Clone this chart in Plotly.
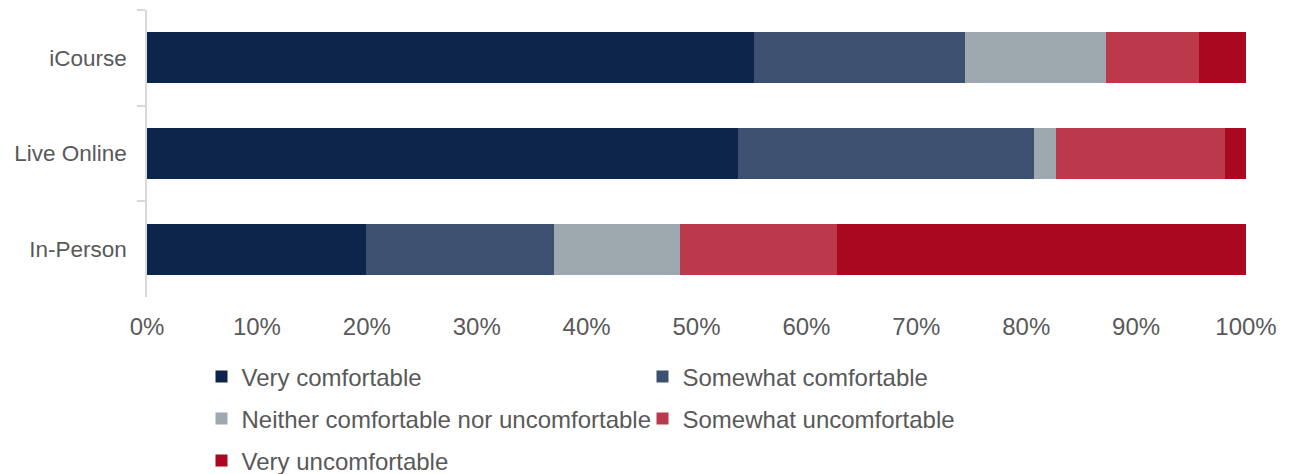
import plotly.graph_objects as go

categories = ["iCourse", "Live Online", "In-Person"]
series_names = [
    "Very comfortable",
    "Somewhat comfortable",
    "Neither comfortable nor uncomfortable",
    "Somewhat uncomfortable",
    "Very uncomfortable",
]
very_comfortable = [0.552, 0.538, 0.199]
somewhat_comfortable = [0.192, 0.269, 0.171]
neither = [0.129, 0.020, 0.115]
somewhat_uncomfortable = [0.084, 0.154, 0.143]
very_uncomfortable = [0.043, 0.019, 0.372]
x_ticks = [i / 10 for i in range(11)]

colors = ["#0D244B", "#3D5070", "#9DA9AE", "#BC384B", "#AA0720"]
values = [very_comfortable, somewhat_comfortable, neither, somewhat_uncomfortable, very_uncomfortable]
legend_ids = ["legend", "legend", "legend2", "legend2", "legend3"]

FONT = "Liberation Sans, Arial, sans-serif"
GREY = "#595959"
FS = 24

fig = go.Figure()
for name, vals, col, lg in zip(series_names, values, colors, legend_ids):
    fig.add_trace(go.Bar(
        y=categories, x=vals, name=name, orientation="h",
        marker=dict(color=col, line=dict(width=0)),
        legend=lg,
    ))

# page has an 8px body margin, so the figure is 8px smaller than the window
W, H = 1283, 466
L, R, T, B = 139, 45, 2, 177
ph = H - T - B
pw = W - L - R

def ypos(py):
    return (H - B - py) / ph

leg_common = dict(
    orientation="h", xanchor="left", yanchor="middle",
    x=(201.5 - 8 - L) / pw, font=dict(family=FONT, size=FS, color=GREY),
    entrywidth=396, entrywidthmode="pixels",
    bgcolor="rgba(0,0,0,0)", traceorder="normal",
)

fig.update_layout(
    width=W, height=H,
    margin=dict(l=L, r=R, t=T, b=B, autoexpand=False),
    paper_bgcolor="white", plot_bgcolor="white",
    barmode="stack", bargap=0.467,
    font=dict(family=FONT, size=FS, color=GREY),
    showlegend=True,
    legend=dict(**leg_common, y=ypos(377 - 8)),
    legend2=dict(**leg_common, y=ypos(419 - 8)),
    legend3=dict(**leg_common, y=ypos(461 - 8)),
    xaxis=dict(
        range=[0, 1], tickvals=x_ticks, tickformat=".0%",
        showgrid=False, zeroline=False, showline=False, ticks="",
        tickfont=dict(family=FONT, size=FS, color=GREY),
        ticklabelstandoff=13,
        fixedrange=True,
    ),
    yaxis=dict(
        categoryorder="array", categoryarray=categories, autorange="reversed",
        showline=True, linecolor="#D9D9D9", linewidth=1.5,
        ticks="outside", tickson="boundaries", ticklen=8, tickcolor="#D9D9D9", tickwidth=1.5,
        showgrid=False, zeroline=False,
        tickfont=dict(family=FONT, size=22.5, color=GREY),
        ticklabelstandoff=14,
    ),
)

fig.write_html("out.html")
